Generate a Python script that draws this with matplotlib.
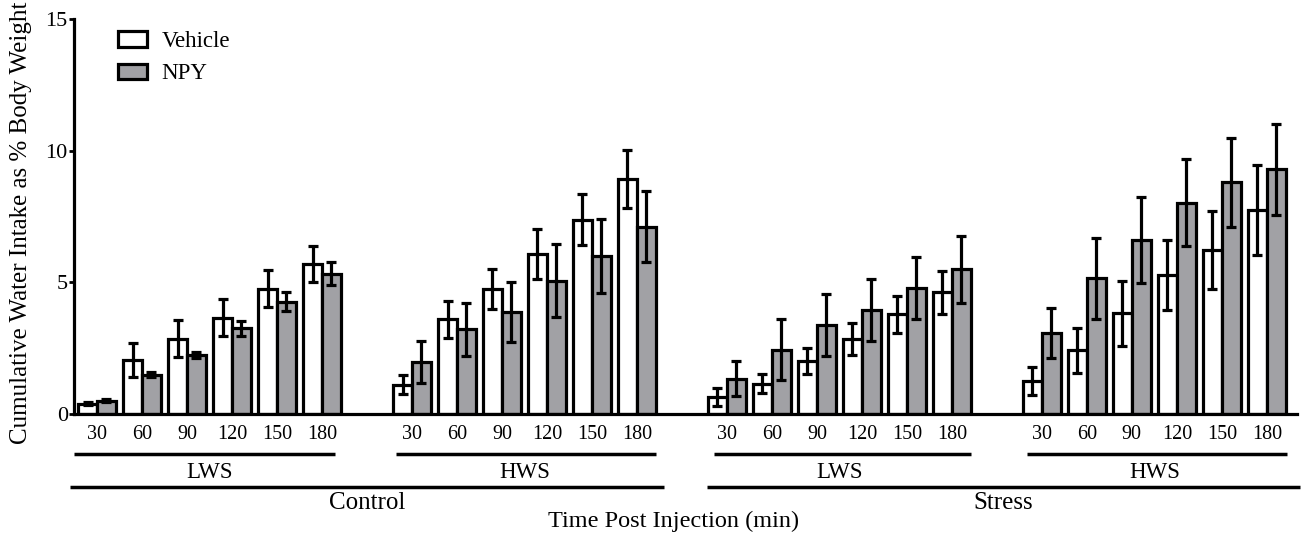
import matplotlib
matplotlib.use("Agg")
import matplotlib.pyplot as plt
import matplotlib.transforms as mtransforms
import numpy as np

plt.rcParams['font.family'] = ['Liberation Serif', 'DejaVu Serif']

# data (mean and SE, % body weight)
times = ["30", "60", "90", "120", "150", "180"]
groups = ["Control LWS", "Control HWS", "Stress LWS", "Stress HWS"]

veh_ctrl_lws = [0.39, 2.04, 2.86, 3.66, 4.76, 5.70]
veh_ctrl_lws_se = [0.05, 0.64, 0.70, 0.70, 0.71, 0.67]
npy_ctrl_lws = [0.51, 1.50, 2.24, 3.26, 4.26, 5.32]
npy_ctrl_lws_se = [0.06, 0.09, 0.12, 0.28, 0.36, 0.44]

veh_ctrl_hws = [1.12, 3.59, 4.73, 6.07, 7.38, 8.93]
veh_ctrl_hws_se = [0.37, 0.70, 0.76, 0.95, 0.98, 1.10]
npy_ctrl_hws = [1.97, 3.22, 3.88, 5.06, 6.00, 7.12]
npy_ctrl_hws_se = [0.80, 1.00, 1.15, 1.39, 1.40, 1.36]

veh_str_lws = [0.64, 1.15, 2.01, 2.86, 3.78, 4.62]
veh_str_lws_se = [0.34, 0.36, 0.50, 0.61, 0.71, 0.81]
npy_str_lws = [1.34, 2.44, 3.37, 3.94, 4.77, 5.50]
npy_str_lws_se = [0.67, 1.16, 1.18, 1.17, 1.18, 1.27]

veh_str_hws = [1.25, 2.42, 3.82, 5.28, 6.23, 7.74]
veh_str_hws_se = [0.53, 0.85, 1.23, 1.34, 1.49, 1.70]
npy_str_hws = [3.09, 5.15, 6.62, 8.02, 8.80, 9.29]
npy_str_hws_se = [0.95, 1.53, 1.63, 1.65, 1.69, 1.72]

vehicle = [veh_ctrl_lws, veh_ctrl_hws, veh_str_lws, veh_str_hws]
vehicle_se = [veh_ctrl_lws_se, veh_ctrl_hws_se, veh_str_lws_se, veh_str_hws_se]
npy = [npy_ctrl_lws, npy_ctrl_hws, npy_str_lws, npy_str_hws]
npy_se = [npy_ctrl_lws_se, npy_ctrl_hws_se, npy_str_lws_se, npy_str_hws_se]

W, H = 1304, 537
fig = plt.figure(figsize=(W / 100, H / 100), dpi=100)
ax = fig.add_axes([74 / W, 1 - 414 / H, (1297 - 74) / W, (414 - 19) / H])

gray = '#a1a1a5'
lw = 2.3
bw = 0.42

xs_all, labels_all = [], []
for g in range(4):
    x = np.arange(6) + g * 7
    xs_all += list(x)
    labels_all += times
    ax.bar(x - bw / 2, vehicle[g], bw, color='white', edgecolor='black', linewidth=lw,
           label='Vehicle' if g == 0 else None, zorder=2)
    ax.bar(x + bw / 2, npy[g], bw, color=gray, edgecolor='black', linewidth=lw,
           label='NPY' if g == 0 else None, zorder=2)
    ax.errorbar(x - bw / 2, vehicle[g], yerr=vehicle_se[g], fmt='none', ecolor='black',
                elinewidth=lw, capsize=3.8, capthick=lw, zorder=3)
    ax.errorbar(x + bw / 2, npy[g], yerr=npy_se[g], fmt='none', ecolor='black',
                elinewidth=lw, capsize=3.8, capthick=lw, zorder=3)

ax.set_xlim(-0.511, 26.67)
ax.set_ylim(0, 15)
ax.set_yticks([0, 5, 10, 15])
ax.set_xticks(xs_all)
ax.set_xticklabels(labels_all)
ax.tick_params(axis='x', length=0, pad=8, labelsize=14.5)
ax.tick_params(axis='y', length=3.5, width=2, pad=1, labelsize=16)
for s in ['top', 'right']:
    ax.spines[s].set_visible(False)
for s in ['left', 'bottom']:
    ax.spines[s].set_linewidth(2.3)

ax.set_ylabel('Cumulative Water Intake as % Body Weight', fontsize=18)
ax.yaxis.set_label_coords(-0.034, 0.485)

# group brackets under the tick labels
tr = mtransforms.blended_transform_factory(ax.transData, fig.transFigure)
sub_spans = [(-0.51, 5.29), (6.64, 12.42), (13.71, 19.42), (20.67, 26.44)]
sub_names = ['LWS', 'HWS', 'LWS', 'HWS']
for (a, b), name, g in zip(sub_spans, sub_names, range(4)):
    ax.plot([a, b], [1 - 454 / H] * 2, transform=tr, color='black', lw=2.5,
            clip_on=False, solid_capstyle='butt')
    ax.text(g * 7 + 2.5, 1 - 473 / H, name, transform=tr, ha='center', va='center', fontsize=16.5)

main_spans = [(-0.6, 12.6), (13.56, 26.73)]
main_names = ['Control', 'Stress']
for (a, b), name in zip(main_spans, main_names):
    ax.plot([a, b], [1 - 487 / H] * 2, transform=tr, color='black', lw=2.5,
            clip_on=False, solid_capstyle='butt')
    ax.text((a + b) / 2, 1 - 503 / H, name, transform=tr, ha='center', va='center', fontsize=18)

fig.text(674 / W, 1 - 521 / H, 'Time Post Injection (min)', ha='center', va='center', fontsize=17.5)

leg = ax.legend(loc='upper left', bbox_to_anchor=(118 / W, 1 - 31 / H),
                bbox_transform=fig.transFigure, frameon=False, fontsize=16.5,
                handlelength=1.25, handleheight=0.65, handletextpad=0.65,
                labelspacing=0.5, borderpad=0, borderaxespad=0)

fig.savefig('out.png', dpi=100)
